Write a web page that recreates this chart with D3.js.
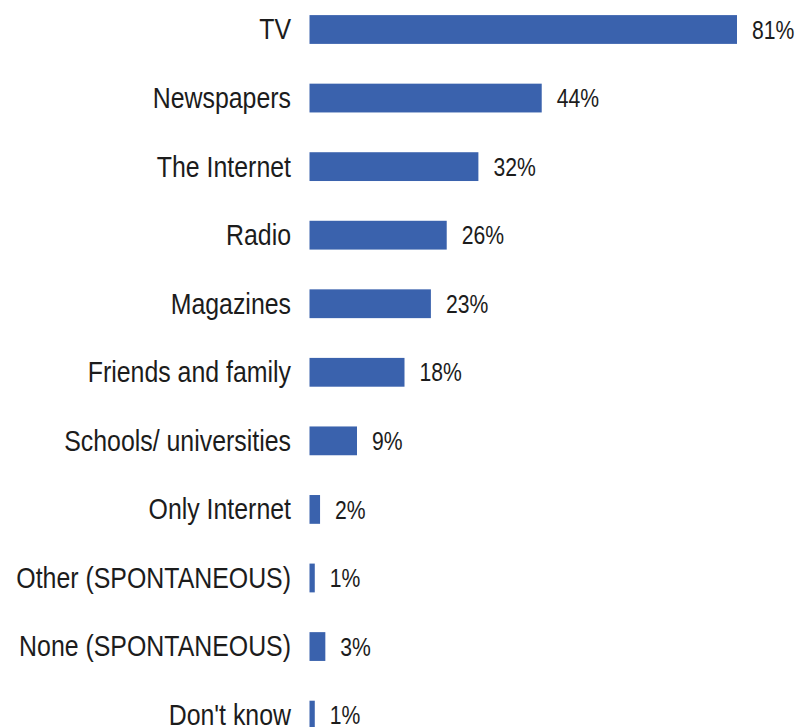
<!DOCTYPE html>
<html>
<head>
<meta charset="utf-8">
<script src="https://cdn.jsdelivr.net/npm/d3@7"></script>
<style>
  html, body { margin: 0; padding: 0; background: #ffffff; }
  svg { display: block; }
</style>
</head>
<body>
<div id="chart"></div>
<script>
// Sources of information, share of respondents (%)
const categories = [
  "TV",
  "Newspapers",
  "The Internet",
  "Radio",
  "Magazines",
  "Friends and family",
  "Schools/ universities",
  "Only Internet",
  "Other (SPONTANEOUS)",
  "None (SPONTANEOUS)",
  "Don't know"
];
const values = [81, 44, 32, 26, 23, 18, 9, 2, 1, 3, 1];

const chartWidth = 798, chartHeight = 727;
const barColor = "#3a62ad";
const textColor = "#1c1c1c";
const fontFamily = "'Liberation Sans', Arial, sans-serif";
const condense = 0.83; // horizontal squeeze for a narrow face

const svg = d3.select("#chart").append("svg")
  .attr("width", chartWidth)
  .attr("height", chartHeight);

const barStart = 309.5;
const rowStep = 68.56;
const rowTop = 29.5 - rowStep / 2;

const x = d3.scaleLinear()
  .domain([0, 81])
  .range([barStart, 737]);

const y = d3.scaleBand()
  .domain(categories)
  .range([rowTop, rowTop + rowStep * categories.length])
  .paddingInner(0.58)
  .paddingOuter(0.29);

const rows = categories.map((c, i) => ({ cat: c, val: values[i] }));

// Bars
svg.append("g").selectAll("rect")
  .data(rows)
  .join("rect")
  .attr("x", x(0))
  .attr("y", d => y(d.cat))
  .attr("width", d => x(d.val) - x(0))
  .attr("height", y.bandwidth())
  .attr("fill", barColor);

// Category labels
svg.append("g").selectAll("text")
  .data(rows)
  .join("text")
  .attr("transform", d => `translate(291,${y(d.cat) + y.bandwidth() / 2}) scale(${condense},1)`)
  .attr("dy", "0.33em")
  .attr("text-anchor", "end")
  .attr("font-family", fontFamily)
  .attr("font-size", 30)
  .attr("fill", textColor)
  .text(d => d.cat);

// Value labels
svg.append("g").selectAll("text")
  .data(rows)
  .join("text")
  .attr("transform", d => `translate(${x(d.val) + 15},${y(d.cat) + y.bandwidth() / 2}) scale(${condense},1)`)
  .attr("dy", "0.36em")
  .attr("text-anchor", "start")
  .attr("font-family", fontFamily)
  .attr("font-size", 25.5)
  .attr("fill", textColor)
  .text(d => d.val + "%");
</script>
</body>
</html>
